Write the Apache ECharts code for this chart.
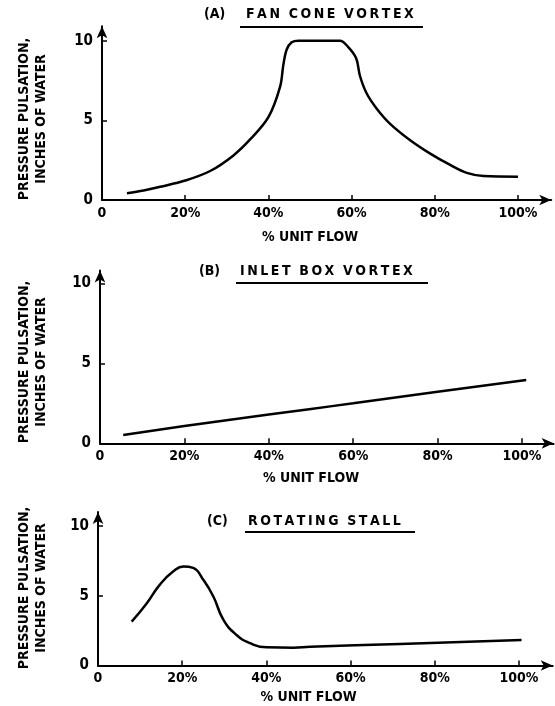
<!DOCTYPE html>
<html>
<head>
<meta charset="utf-8">
<title>Pressure pulsation vs unit flow</title>
<script src="https://cdn.jsdelivr.net/npm/echarts@6/dist/echarts.min.js"></script>
<style>
    html, body { margin: 0; padding: 0; background: #fff; }
    #chart { width: 555px; height: 706px; }
</style>
</head>
<body>
<div id="chart"></div>
<script>
// 数据
var flowA = [6, 10, 14, 20, 26, 31.6, 35.6, 40, 42.8, 43.6, 44.4, 45.6, 47.2, 57.2, 59.2, 61.1, 62, 63.6, 66, 69.2, 74, 78.8, 83.7, 87.7, 91.7, 100];
var pulseA = [0.42, 0.6, 0.83, 1.22, 1.82, 2.8, 3.8, 5.2, 7.1, 8.5, 9.45, 9.9, 10, 10, 9.6, 8.9, 7.8, 6.7, 5.75, 4.8, 3.77, 2.93, 2.2, 1.7, 1.5, 1.46];

var flowB = [5.5, 20, 40, 50, 60, 80, 101];
var pulseB = [0.52, 1.08, 1.8, 2.15, 2.5, 3.22, 3.96];

var flowC = [8, 11.6, 14.7, 17.9, 20.3, 22.6, 25, 27.4, 29.8, 32.9, 36.1, 40, 46.4, 50.4, 71.7, 100.6];
var pulseC = [3.15, 4.47, 5.8, 6.75, 7.1, 7.0, 6.15, 4.95, 3.27, 2.19, 1.6, 1.3, 1.28, 1.35, 1.55, 1.83];

var xTicks = [0, 20, 40, 60, 80, 100];
var yTicks = [0, 5, 10];
var panelTags = ['(A)', '(B)', '(C)'];
var panelNames = ['FAN CONE VORTEX', 'INLET BOX VORTEX', 'ROTATING STALL'];
var yName = 'PRESSURE PULSATION,\nINCHES OF WATER';
var xName = '% UNIT FLOW';

var FONT = '"DejaVu Sans Condensed", "DejaVu Sans", sans-serif';

// 每个面板的版式 (pixels)
var panels = [
    { x0: 102, y0: 200,   sx: 4.16, sy: 15.93, xMax: 108,   yMax: 10.9, smooth: 0.35, tagX: 204, nameX: 246, lineX: [240, 423], titleY: 16,  lineY: 27,  yNameY: 119, xNameY: 237 },
    { x0: 100, y0: 443.3, sx: 4.22, sy: 16,    xMax: 107.5, yMax: 10.8, smooth: 0.5,  tagX: 199, nameX: 240, lineX: [236, 428], titleY: 273, lineY: 283, yNameY: 362, xNameY: 478 },
    { x0: 98,  y0: 665.5, sx: 4.21, sy: 13.95, xMax: 108,   yMax: 11,   smooth: 0.5,  tagX: 207, nameX: 248, lineX: [245, 415], titleY: 523, lineY: 532, yNameY: 588, xNameY: 697 }
];

function spaced(str) {
    // wide letter spacing like the typed original (thin space between letters)
    return str.split(' ').map(function (w) { return w.split('').join('\u2009'); }).join('  ');
}

function zip(xs, ys) {
    return xs.map(function (x, i) { return [x, ys[i]]; });
}

function buildOption() {
    var grids = [], xAxes = [], yAxes = [], series = [], graphics = [];
    var datas = [zip(flowA, pulseA), zip(flowB, pulseB), zip(flowC, pulseC)];

    panels.forEach(function (p, i) {
        grids.push({
            left: p.x0,
            top: p.y0 - p.yMax * p.sy,
            width: p.xMax * p.sx,
            height: p.yMax * p.sy,
            outerBoundsMode: 'none'
        });
        xAxes.push({
            type: 'value', gridIndex: i, min: 0, max: p.xMax, interval: 20,
            axisLine: { lineStyle: { color: '#000', width: 2 }, symbol: ['none', 'arrow'], symbolSize: [8, 12] },
            axisTick: { inside: true, length: 5, lineStyle: { color: '#000', width: 1.5 }, customValues: [20, 40, 60, 80, 100] },
            axisLabel: {
                customValues: xTicks, margin: 6, color: '#000', fontFamily: FONT, fontWeight: 'bold', fontSize: 14,
                formatter: function (v) { return v === 0 ? '0' : v + '%'; }
            },
            splitLine: { show: false }
        });
        yAxes.push({
            type: 'value', gridIndex: i, min: 0, max: p.yMax, interval: 5,
            axisLine: { show: true, lineStyle: { color: '#000', width: 2 }, symbol: ['none', 'arrow'], symbolSize: [8, 12] },
            axisTick: { show: true, inside: true, length: 5, lineStyle: { color: '#000', width: 1.5 }, customValues: [5, 10] },
            axisLabel: { customValues: yTicks, margin: 9, color: '#000', fontFamily: FONT, fontWeight: 'bold', fontSize: 15 },
            splitLine: { show: false }
        });
        series.push({
            type: 'line', xAxisIndex: i, yAxisIndex: i,
            data: datas[i],
            showSymbol: false, smooth: p.smooth,
            lineStyle: { color: '#000', width: 2.5 },
            silent: true
        });

        // 标题 + 下划线
        graphics.push({
            type: 'text', left: p.tagX, top: p.titleY - 9,
            style: { text: panelTags[i], fill: '#000', font: 'bold 14px ' + FONT }
        });
        graphics.push({
            type: 'text', left: p.nameX, top: p.titleY - 9,
            style: { text: spaced(panelNames[i]), fill: '#000', font: 'bold 14px ' + FONT }
        });
        graphics.push({
            type: 'line', shape: { x1: p.lineX[0], y1: p.lineY, x2: p.lineX[1], y2: p.lineY },
            style: { stroke: '#000', lineWidth: 2 }
        });
        // 纵轴名称
        graphics.push({
            type: 'text', x: 33, y: p.yNameY, rotation: Math.PI / 2,
            style: { text: yName, fill: '#000', font: 'bold 14px ' + FONT, align: 'center', verticalAlign: 'middle', lineHeight: 17 }
        });
        // 横轴名称
        graphics.push({
            type: 'text', x: p.x0 + 50 * p.sx, y: p.xNameY,
            style: { text: xName, fill: '#000', font: 'bold 14px ' + FONT, align: 'center', verticalAlign: 'middle' }
        });
    });

    return {
        backgroundColor: '#fff',
        animation: false,
        grid: grids,
        xAxis: xAxes,
        yAxis: yAxes,
        series: series,
        graphic: graphics
    };
}

var chart = echarts.init(document.getElementById('chart'));
chart.setOption(buildOption());
</script>
</body>
</html>
